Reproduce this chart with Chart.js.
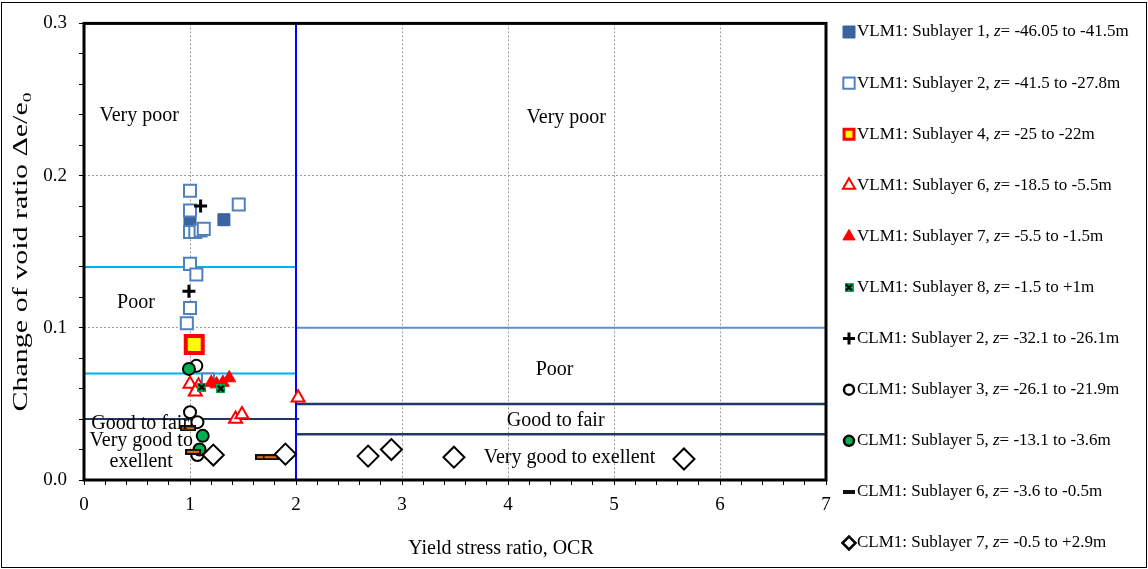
<!DOCTYPE html>
<html>
<head>
<meta charset="utf-8">
<title>Change of void ratio vs OCR</title>
<script src="https://cdn.jsdelivr.net/npm/chart.js@4.4.1/dist/chart.umd.min.js"></script>
<style>
  html, body { margin: 0; padding: 0; background: #fff; }
  #wrap { width: 1148px; height: 569px; position: relative; }
</style>
</head>
<body>
<div id="wrap"><canvas id="ocrChart" width="1148" height="569"></canvas></div>
<script>
// ---- data ----
const vlm1S1X = [1.0, 1.32];
const vlm1S1Y = [0.170, 0.171];

const vlm1S2X = [1.0, 1.0, 1.46, 1.0, 1.05, 1.1, 1.13, 1.0, 1.06, 1.0, 0.97, 1.17];
const vlm1S2Y = [0.190, 0.177, 0.181, 0.163, 0.163, 0.164, 0.165, 0.142, 0.135, 0.113, 0.103, 0.066];

const vlm1S4X = [1.04];
const vlm1S4Y = [0.089];

const vlm1S6X = [1.0, 1.08, 1.05, 1.43, 1.49, 2.02];
const vlm1S6Y = [0.063, 0.062, 0.058, 0.040, 0.043, 0.054];

const vlm1S7X = [1.2, 1.25, 1.31, 1.37];
const vlm1S7Y = [0.064, 0.063, 0.064, 0.067];

const vlm1S8X = [1.11, 1.29];
const vlm1S8Y = [0.061, 0.060];

const clm1S2X = [1.1, 0.99];
const clm1S2Y = [0.180, 0.124];

const clm1S3X = [1.06, 1.0, 1.07, 1.07];
const clm1S3Y = [0.075, 0.0445, 0.038, 0.0164];

const clm1S5X = [0.99, 1.12, 1.09];
const clm1S5Y = [0.073, 0.029, 0.020];

const clm1S6X = [0.98, 1.03, 1.69, 1.76];
const clm1S6Y = [0.034, 0.0185, 0.015, 0.015];

const clm1S7X = [1.22, 1.9, 2.68, 2.9, 3.49, 5.66];
const clm1S7Y = [0.0164, 0.017, 0.0157, 0.020, 0.015, 0.0138];

const seriesNames = [
  'VLM1: Sublayer 1, z= -46.05 to -41.5m',
  'VLM1: Sublayer 2, z= -41.5 to -27.8m',
  'VLM1: Sublayer 4, z= -25 to -22m',
  'VLM1: Sublayer 6, z= -18.5 to -5.5m',
  'VLM1: Sublayer 7, z= -5.5 to -1.5m',
  'VLM1: Sublayer 8, z= -1.5 to +1m',
  'CLM1: Sublayer 2, z= -32.1 to -26.1m',
  'CLM1: Sublayer 3, z= -26.1 to -21.9m',
  'CLM1: Sublayer 5, z= -13.1 to -3.6m',
  'CLM1: Sublayer 6, z= -3.6 to -0.5m',
  'CLM1: Sublayer 7, z= -0.5 to +2.9m'
];

// zone boundaries
const dividerOCR = 2;
const leftBounds = [0.14, 0.07, 0.04];
const rightBounds = [0.10, 0.05, 0.03];

const zoneLabels = [
  { text: 'Very poor', x: 0.52, y: 0.239 },
  { text: 'Very poor', x: 4.55, y: 0.238 },
  { text: 'Poor', x: 0.49, y: 0.1166 },
  { text: 'Poor', x: 4.44, y: 0.0727 },
  { text: 'Good to fair', x: 0.53, y: 0.0367 },
  { text: 'Good to fair', x: 4.45, y: 0.039 },
  { text: 'Very good to', x: 0.54, y: 0.0255 },
  { text: 'exellent', x: 0.54, y: 0.0118 },
  { text: 'Very good to exellent', x: 4.58, y: 0.0144 }
];

const xTitle = 'Yield stress ratio, OCR';
const yTitle = 'Change of void ratio \u0394e/e';
const yTitleSub = '0';

// ---- custom marker images ----
function greenX(size) {
  const c = document.createElement('canvas');
  c.width = size; c.height = size;
  const g = c.getContext('2d');
  g.fillStyle = '#00b050';
  g.fillRect(0, 0, size, size);
  g.strokeStyle = '#000';
  g.lineWidth = 2;
  g.beginPath();
  g.moveTo(1.5, 1.5); g.lineTo(size - 1.5, size - 1.5);
  g.moveTo(size - 1.5, 1.5); g.lineTo(1.5, size - 1.5);
  g.stroke();
  return c;
}
function dash(w, h, inner) {
  const c = document.createElement('canvas');
  c.width = w; c.height = h;
  const g = c.getContext('2d');
  g.fillStyle = '#111';
  g.fillRect(0, 0, w, h);
  if (inner) {
    g.fillStyle = '#e46c0a';
    g.fillRect(2, 2, w - 4, h - 4);
  }
  return c;
}

const pts = (xs, ys) => xs.map((v, i) => ({ x: v, y: ys[i] }));

const series = [
  { d: pts(vlm1S1X, vlm1S1Y), style: 'rect', r: 8.5, bg: '#3a63a0', bc: '#3a63a0', bw: 1, lr: 8.5, lbw: 1 },
  { d: pts(vlm1S2X, vlm1S2Y), style: 'rect', r: 8.5, bg: '#ffffff', bc: '#4f81bd', bw: 2, lr: 8, lbw: 2 },
  { d: pts(vlm1S4X, vlm1S4Y), style: 'rect', r: 12, bg: '#ffff00', bc: '#ff0000', bw: 4, lr: 7, lbw: 3 },
  { d: pts(vlm1S6X, vlm1S6Y), style: 'triangle', r: 7.5, bg: '#ffffff', bc: '#ff0000', bw: 2, lr: 7, lbw: 2 },
  { d: pts(vlm1S7X, vlm1S7Y), style: 'triangle', r: 7.5, bg: '#ff0000', bc: '#ff0000', bw: 1, lr: 7, lbw: 1 },
  { d: pts(vlm1S8X, vlm1S8Y), style: greenX(9), legendStyle: greenX(9), r: 5, bg: '#00b050', bc: '#000', bw: 1 },
  { d: pts(clm1S2X, clm1S2Y), style: 'cross', r: 6.5, bg: '#000', bc: '#000', bw: 3, lr: 6, lbw: 3 },
  { d: pts(clm1S3X, clm1S3Y), style: 'circle', r: 6, bg: '#ffffff', bc: '#000', bw: 2, lr: 5, lbw: 2.5 },
  { d: pts(clm1S5X, clm1S5Y), style: 'circle', r: 6, bg: '#00b050', bc: '#000', bw: 2, lr: 5, lbw: 2.5 },
  { d: pts(clm1S6X, clm1S6Y), style: dash(16, 6, true), legendStyle: dash(12, 4, false), r: 8, bg: '#000', bc: '#000', bw: 1 },
  { d: pts(clm1S7X, clm1S7Y), style: 'rectRot', r: 10.5, bg: '#ffffff', bc: '#000', bw: 2, lr: 6.5, lbw: 2.5 }
];

const datasets = series.map((s, i) => ({
  label: seriesNames[i],
  data: s.d,
  pointStyle: s.style,
  pointRadius: s.r,
  backgroundColor: s.bg,
  borderColor: s.bc,
  borderWidth: s.bw,
  showLine: false,
  order: -i,
  legendInfo: s
}));

function hLine(x0, x1, yv, color, width) {
  return {
    data: [{ x: x0, y: yv }, { x: x1, y: yv }],
    showLine: true, pointRadius: 0, borderColor: color, borderWidth: width,
    fill: false, order: 100
  };
}
datasets.push(hLine(0, dividerOCR, leftBounds[0], '#00b0f0', 2));
datasets.push(hLine(0, dividerOCR, leftBounds[1], '#00b0f0', 2));
datasets.push(hLine(0, dividerOCR + 0.03, leftBounds[2], '#1f3864', 2));
datasets.push(hLine(dividerOCR, 7, rightBounds[0], '#5b8fd0', 2));
datasets.push(hLine(dividerOCR, 7, rightBounds[1], '#1f3864', 2.5));
datasets.push(hLine(dividerOCR, 7, rightBounds[2], '#1f3864', 2.5));
datasets.push({
  data: [{ x: dividerOCR, y: 0 }, { x: dividerOCR, y: 0.3 }],
  showLine: true, pointRadius: 0, borderColor: '#0000ff', borderWidth: 2, order: 99
});

const serif = '"Liberation Serif", "Times New Roman", serif';

const decorPlugin = {
  id: 'decor',
  afterDraw(chart) {
    const { ctx, chartArea: a, scales: { x, y } } = chart;
    ctx.save();

    // zone labels
    ctx.fillStyle = '#000';
    ctx.font = '20px ' + serif;
    ctx.textAlign = 'center';
    ctx.textBaseline = 'middle';
    zoneLabels.forEach(l => ctx.fillText(l.text, x.getPixelForValue(l.x), y.getPixelForValue(l.y)));

    // plot frame
    ctx.strokeStyle = '#000';
    ctx.lineWidth = 3;
    ctx.strokeRect(a.left, a.top, a.right - a.left, a.bottom - a.top);

    // outer border
    ctx.lineWidth = 1;
    ctx.strokeRect(1.5, 2.5, chart.width - 3, chart.height - 4);

    // x axis title
    ctx.font = '20px ' + serif;
    ctx.fillText(xTitle, 501, 549);

    // y axis title (stretched along its length as in the figure)
    ctx.save();
    ctx.translate(22, 252);
    ctx.rotate(-Math.PI / 2);
    ctx.scale(1.5, 1);
    ctx.font = '20px ' + serif;
    const mainW = ctx.measureText(yTitle).width;
    ctx.font = '13px ' + serif;
    const subW = ctx.measureText(yTitleSub).width;
    const start = -(mainW + subW) / 2;
    ctx.textAlign = 'left';
    ctx.font = '20px ' + serif;
    ctx.fillText(yTitle, start, 0);
    ctx.font = '13px ' + serif;
    ctx.fillText(yTitleSub, start + mainW, 6);
    ctx.restore();

    // legend
    const H = Chart.helpers;
    ctx.textAlign = 'left';
    ctx.textBaseline = 'middle';
    chart.data.datasets.forEach((ds, i) => {
      const s = ds.legendInfo;
      if (!s) return;
      const ly = 32 + 51.1 * i;
      const lx = 849;
      ctx.save();
      ctx.fillStyle = s.bg;
      ctx.strokeStyle = s.bc;
      ctx.lineWidth = s.lbw || s.bw;
      if (H && H.drawPoint) {
        H.drawPoint(ctx, {
          pointStyle: s.legendStyle || s.style,
          radius: s.lr || s.r,
          rotation: 0,
          borderWidth: s.lbw || s.bw
        }, lx, ly);
      }
      ctx.restore();
      const parts = ds.label.split(', z');
      let tx = 857;
      ctx.fillStyle = '#000';
      ctx.font = '17px ' + serif;
      const p1 = parts[0] + ', ';
      ctx.fillText(p1, tx, ly);
      tx += ctx.measureText(p1).width;
      ctx.font = 'italic 17px ' + serif;
      ctx.fillText('z', tx, ly);
      tx += ctx.measureText('z').width;
      ctx.font = '17px ' + serif;
      ctx.fillText(parts[1], tx, ly);
    });

    ctx.restore();
  }
};

const isWhole = v => Math.abs(v - Math.round(v)) < 1e-6;
const isTenth = v => Math.abs(v * 10 - Math.round(v * 10)) < 1e-6;

new Chart(document.getElementById('ocrChart'), {
  type: 'scatter',
  data: { datasets },
  options: {
    responsive: false,
    animation: false,
    events: [],
    layout: { padding: { top: 22, right: 322, left: 0, bottom: 0 } },
    plugins: { legend: { display: false }, tooltip: { enabled: false } },
    scales: {
      x: {
        type: 'linear', min: 0, max: 7,
        afterFit: s => { s.height = 89; },
        border: { display: false, dash: [2, 2] },
        grid: {
          color: c => (c.tick && isWhole(c.tick.value) ? '#9a9a9a' : 'rgba(0,0,0,0)'),
          tickColor: '#000', tickLength: 5, tickBorderDash: [], lineWidth: 1
        },
        ticks: {
          stepSize: 0.2, autoSkip: false, maxRotation: 0, padding: 9,
          color: '#000', font: { family: serif, size: 19 },
          callback: v => (isWhole(v) ? String(Math.round(v)) : '')
        }
      },
      y: {
        type: 'linear', min: 0, max: 0.3,
        afterFit: s => { s.width = 84; },
        border: { display: false, dash: [2, 2] },
        grid: {
          color: c => (c.tick && isTenth(c.tick.value) ? '#9a9a9a' : 'rgba(0,0,0,0)'),
          tickColor: '#000', tickLength: 5, tickBorderDash: [], lineWidth: 1
        },
        ticks: {
          stepSize: 0.02, autoSkip: false, padding: 12,
          color: '#000', font: { family: serif, size: 19 },
          callback: v => (isTenth(v) ? v.toFixed(1) : '')
        }
      }
    }
  },
  plugins: [decorPlugin]
});
</script>
</body>
</html>
